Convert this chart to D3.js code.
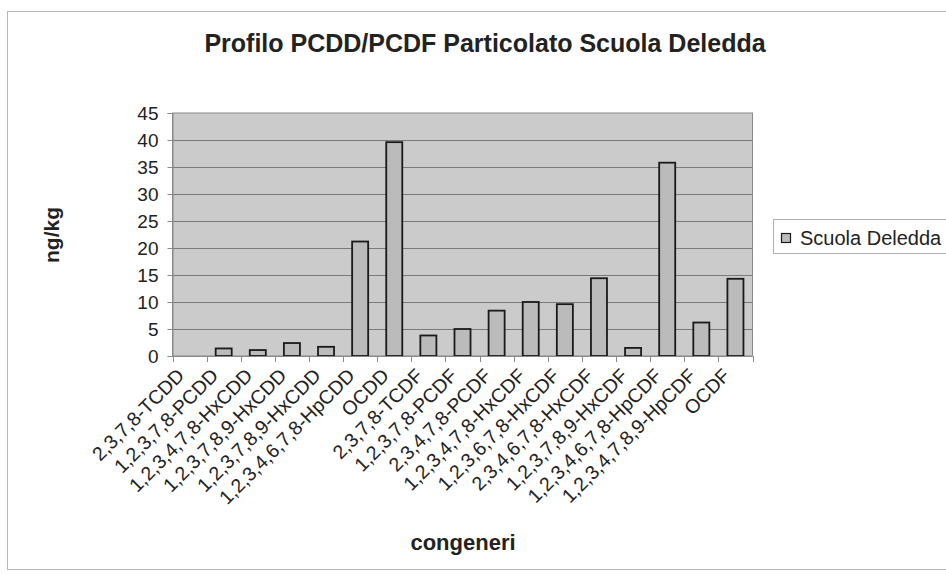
<!DOCTYPE html>
<html>
<head>
<meta charset="utf-8">
<script src="https://cdn.jsdelivr.net/npm/d3@7"></script>
<style>
  html, body { margin: 0; padding: 0; background: #fff; }
  svg { display: block; font-family: "Liberation Sans", Arial, sans-serif; }
</style>
</head>
<body>
<svg id="chart" width="946" height="576"></svg>
<script>
const categories = [
  "2,3,7,8-TCDD", "1,2,3,7,8-PCDD", "1,2,3,4,7,8-HxCDD", "1,2,3,7,8,9-HxCDD",
  "1,2,3,7,8,9-HxCDD", "1,2,3,4,6,7,8-HpCDD", "OCDD", "2,3,7,8-TCDF",
  "1,2,3,7,8-PCDF", "2,3,4,7,8-PCDF", "1,2,3,4,7,8-HxCDF", "1,2,3,6,7,8-HxCDF",
  "2,3,4,6,7,8-HxCDF", "1,2,3,7,8,9-HxCDF", "1,2,3,4,6,7,8-HpCDF",
  "1,2,3,4,7,8,9-HpCDF", "OCDF"
];
const seriesName = "Scuola Deledda";
const values = [0, 1.4, 1.1, 2.4, 1.7, 21.2, 39.6, 3.8, 5.0, 8.4, 10.0, 9.6, 14.4, 1.5, 35.8, 6.2, 14.3];
const yTicks = [0, 5, 10, 15, 20, 25, 30, 35, 40, 45];
const titleText = "Profilo PCDD/PCDF Particolato Scuola Deledda";
const xTitle = "congeneri";
const yTitle = "ng/kg";

const svg = d3.select("#chart");
const plot = { left: 172.5, right: 752.5, top: 113, bottom: 356 };

// outer chart border
svg.append("rect")
  .attr("x", 7.5).attr("y", 11.5).attr("width", 960).attr("height", 558)
  .attr("fill", "#fff").attr("stroke", "#b8b8b8").attr("stroke-width", 1);

const idx = d3.range(categories.length);
const x = d3.scaleBand().domain(idx).range([plot.left, plot.right])
  .paddingInner(0.53).paddingOuter(0.265);
const xOuter = d3.scaleBand().domain(idx).range([plot.left, plot.right]);
const y = d3.scaleLinear().domain([0, 45]).range([plot.bottom, plot.top]);

// plot background
svg.append("rect")
  .attr("x", plot.left).attr("y", plot.top)
  .attr("width", plot.right - plot.left).attr("height", plot.bottom - plot.top)
  .attr("fill", "#cbcbcb").attr("stroke", "#8a8a8a").attr("stroke-width", 1);

// gridlines
svg.append("g").selectAll("line").data(yTicks.filter(d => d > 0 && d < 45)).join("line")
  .attr("x1", plot.left).attr("x2", plot.right)
  .attr("y1", d => Math.round(y(d)) + 0.5).attr("y2", d => Math.round(y(d)) + 0.5)
  .attr("stroke", "#7a7a7a").attr("stroke-width", 1);

// bars
svg.append("g").selectAll("rect").data(values).join("rect")
  .attr("x", (d, i) => x(i))
  .attr("width", x.bandwidth())
  .attr("y", d => y(d))
  .attr("height", d => y(0) - y(d))
  .attr("fill", "#bbbbbb")
  .attr("stroke", "#1a1a1a").attr("stroke-width", 1.8)
  .style("display", d => d > 0 ? null : "none");

// y axis
const yAxis = d3.axisLeft(y).tickValues(yTicks).tickSize(5).tickPadding(9);
const gy = svg.append("g").attr("transform", `translate(${plot.left},0)`).call(yAxis);
gy.select(".domain").attr("stroke", "#8a8a8a");
gy.selectAll(".tick line").attr("stroke", "#8a8a8a");
gy.selectAll(".tick text").attr("font-size", 19).attr("fill", "#222")
  .attr("font-family", "'Liberation Sans', Arial, sans-serif");

// x axis (ticks at category boundaries)
const boundaries = d3.range(categories.length + 1).map(i => plot.left + i * xOuter.step());
svg.append("line")
  .attr("x1", plot.left).attr("x2", plot.right)
  .attr("y1", plot.bottom + 0.5).attr("y2", plot.bottom + 0.5)
  .attr("stroke", "#8a8a8a");
svg.append("g").selectAll("line").data(boundaries).join("line")
  .attr("x1", d => Math.round(d) + 0.5).attr("x2", d => Math.round(d) + 0.5)
  .attr("y1", plot.bottom).attr("y2", plot.bottom + 6)
  .attr("stroke", "#8a8a8a");

// category labels rotated
svg.append("g").selectAll("text").data(categories).join("text")
  .attr("transform", (d, i) => `translate(${x(i) + x.bandwidth() / 2 - 9},${plot.bottom + 16}) rotate(-45)`)
  .attr("text-anchor", "end")
  .attr("dy", "0.35em")
  .attr("font-size", 19.5)
  .attr("fill", "#222")
  .text(d => d);

// titles
svg.append("text")
  .attr("x", 485).attr("y", 52)
  .attr("text-anchor", "middle")
  .attr("font-size", 25).attr("font-weight", "bold").attr("fill", "#222")
  .text(titleText);

svg.append("text")
  .attr("x", 463).attr("y", 550)
  .attr("text-anchor", "middle")
  .attr("font-size", 22).attr("font-weight", "bold").attr("fill", "#222")
  .text(xTitle);

svg.append("text")
  .attr("transform", "translate(59,235) rotate(-90)")
  .attr("text-anchor", "middle")
  .attr("font-size", 21).attr("font-weight", "bold").attr("fill", "#222")
  .text(yTitle);

// legend
const lg = svg.append("g").attr("transform", "translate(773,219)");
lg.append("rect").attr("x", 0.5).attr("y", 0.5).attr("width", 200).attr("height", 34)
  .attr("fill", "#fff").attr("stroke", "#b0b0b0");
lg.append("rect").attr("x", 8.5).attr("y", 14.5).attr("width", 9).attr("height", 9)
  .attr("fill", "#bbbbbb").attr("stroke", "#1a1a1a").attr("stroke-width", 1.2);
lg.append("text").attr("x", 27).attr("y", 19).attr("dy", "0.35em")
  .attr("font-size", 20).attr("fill", "#222")
  .text(seriesName);
</script>
</body>
</html>
